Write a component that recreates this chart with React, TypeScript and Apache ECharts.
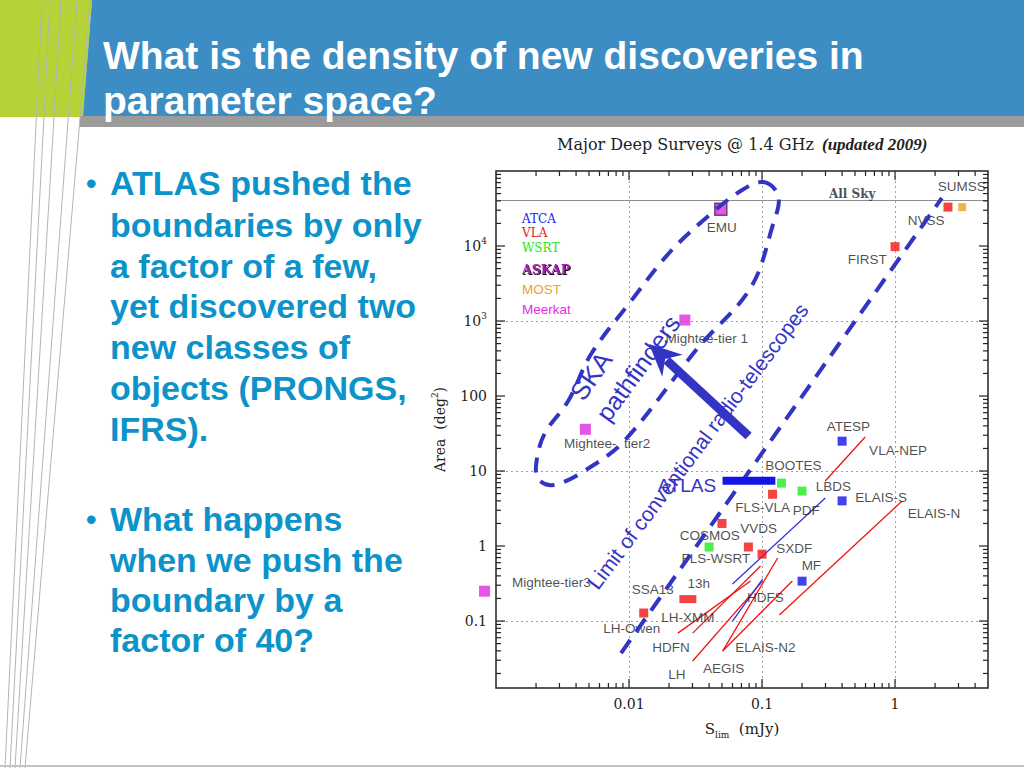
import React, { useEffect, useRef } from 'react';
import * as echarts from 'echarts';

// ---------- axes ----------
const X_MIN = 0.001;
const X_MAX = 5;
const Y_MIN = 0.0128;
const Y_MAX = 100000;
const xTickValues = [0.01, 0.1, 1];
const xTickLabels = ['0.01', '0.1', '1'];
const yTickValues = [0.1, 1, 10, 100, 1000, 10000];
const yTickLabels = ['0.1', '1', '10', '100', '10{sup|3}', '10{sup|4}'];
const xMajorTicks = [0.01, 0.1, 1];
const yMajorTicks = [0.1, 1, 10, 100, 1000, 10000];
const xDecades = [0.001, 0.01, 0.1, 1];
const yDecades = [0.01, 0.1, 1, 10, 100, 1000, 10000];
const minorMultipliers = [2, 3, 4, 5, 6, 7, 8, 9];
const xGridValues = [0.01, 0.1, 1];
const yGridValues = [0.1, 10, 1000];
const ALL_SKY = 41253;

// ---------- surveys: [name, S_lim (mJy), area (deg2)] ----------
const atcaPoints = [['ATESP', 0.4, 25], ['ELAIS-S', 0.4, 4], ['MF', 0.2, 0.34]];
const vlaPoints = [
  ['FIRST', 1, 9800], ['NVSS', 2.5, 33000], ['FLS-VLA', 0.12, 4.9], ['COSMOS', 0.05, 2],
  ['VVDS', 0.079, 0.97], ['SXDF', 0.1, 0.78], ['LH-Owen', 0.0129, 0.128],
];
const vla13hPoints = [['13h', 0.0277, 0.196]];
const wsrtPoints = [['BOOTES', 0.14, 6.9], ['LBDS', 0.2, 5.4], ['FLS-WSRT', 0.04, 0.97]];
const mostPoints = [['SUMSS', 3.2, 33000]];
const askapPoints = [['EMU', 0.049, 31000]];
const meerkatPoints = [['Mightee-tier 1', 0.0263, 1030], ['Mightee-tier2', 0.0047, 36], ['Mightee-tier3', 0.00082, 0.25]];

// survey tracks (depth vs area trade-offs)
const vlaTracks = [
  [[0.299, 7.36], [0.596, 28.4]],
  [[0.135, 0.12], [1.13, 3.98]],
  [[0.0233, 0.069], [0.082, 0.341]],
  [[0.0301, 0.069], [0.0975, 0.541]],
  [[0.0301, 0.0293], [0.101, 0.341]],
  [[0.0506, 0.0398], [0.131, 0.692]],
  [[0.0506, 0.0398], [0.169, 0.341]],
];
const atcaTracks = [
  [[0.06, 0.311], [0.299, 4.37]],
  [[0.06, 0.1], [0.101, 0.363]],
];

// label anchors: [text, S, area]
const labelItems = [
  ['EMU', 0.0498, 17400], ['Mightee-tier 1', 0.0384, 593], ['Mightee-  tier2', 0.00684, 23.6],
  ['Mightee-tier3', 0.00261, 0.331], ['SUMSS', 3.18, 61200], ['NVSS', 1.71, 22200], ['FIRST', 0.617, 6710],
  ['ATESP', 0.445, 39.8], ['VLA-NEP', 1.053, 18.5], ['BOOTES', 0.172, 11.7], ['LBDS', 0.344, 6.31],
  ['ELAIS-S', 0.785, 4.5], ['ELAIS-N', 1.96, 2.75], ['FLS-VLA', 0.101, 3.31], ['PDF', 0.215, 3.02],
  ['COSMOS', 0.0405, 1.4], ['VVDS', 0.0942, 1.69], ['FLS-WSRT', 0.0449, 0.692], ['SXDF', 0.175, 0.94],
  ['MF', 0.235, 0.558], ['13h', 0.0334, 0.321], ['SSA13', 0.0151, 0.267], ['HDFS', 0.106, 0.203],
  ['LH-XMM', 0.0277, 0.113], ['LH-Owen', 0.0105, 0.0807], ['HDFN', 0.0207, 0.045],
  ['ELAIS-N2', 0.106, 0.045], ['AEGIS', 0.0515, 0.0236], ['LH', 0.0229, 0.0196],
];
const allSkyLabel = [['All Sky', 0.477, 49400]];

// annotations in data space
const skaOutline = [
  [0.1026, 71300], [0.133, 46400], [0.12, 18500], [0.082, 2754], [0.0329, 437], [0.00918, 25.1],
  [0.0046, 10], [0.0027, 6.5], [0.00208, 7.8], [0.00201, 12.8], [0.00231, 31.1], [0.00349, 85.8],
  [0.00519, 363], [0.01035, 1848], [0.02065, 8577], [0.0411, 26700], [0.069, 54100],
];
const limitLine = [[0.00871, 0.0374], [2.25, 43650]];
const arrowLine = [[0.0792, 29.3], [0.01413, 494]];
const atlasBar = [[0.0505, 7.4], [0.126, 7.4]];
// [text, S, area, rotation deg, font size]
const annotationTexts = [
  ['ATLAS', 0.0272, 6.5, 0, 19],
  ['SKA', 0.00519, 185, 55, 26],
  ['pathfinders', 0.01167, 236, 54, 25],
  ['Limit of conventional radio-telescopes', 0.0329, 21.5, 53, 21],
];

// ---------- slide text ----------
const titleLines = [['What is the density of new discoveries in', 55], ['parameter space?', 100]];
const bodyLines = [
  ['ATLAS pushed the', 183, true], ['boundaries by only', 225, false], ['a factor of a few,', 266, false],
  ['yet discovered two', 306, false], ['new classes of', 347, false], ['objects (PRONGS,', 388, false],
  ['IFRS).', 429, false], ['What happens', 519, true], ['when we push the', 560, false],
  ['boundary by a', 600, false], ['factor of 40?', 640, false],
];
const legendItems = [
  ['ATCA', 219, '#2222e6', 'serif'], ['VLA', 233, '#ee1515', 'serif'], ['WSRT', 248, '#22e822', 'serif'],
  ['ASKAP', 269, '#a020a8', 'serifbold'], ['MOST', 289, '#f0a030', 'sans'], ['Meerkat', 309, '#e030e0', 'sans'],
];

const SANS = '"Liberation Sans", Arial, sans-serif';
const SERIF = '"DejaVu Serif", serif';
const ANN = '#3434c4';
const RED = '#f01414';
const GREEN = '#20ea20';
const BLUE = '#1212e8';
const MAGENTA = '#e02ce0';
const ORANGE = '#eaa420';
const AXIS = '#222';

function tickIndex(v: number, vals: number[]) {
  return vals.findIndex((t) => Math.abs(Math.log10(v) - Math.log10(t)) < 0.005);
}

function pointSeries(name: string, pts: any[], color: string, size: any, extra: any = {}) {
  return {
    type: 'scatter',
    name,
    data: pts.map((p) => ({ name: p[0], value: [p[1], p[2]] })),
    symbol: 'rect',
    symbolSize: size,
    itemStyle: { color, ...(extra.itemStyle || {}) },
    clip: false,
    silent: true,
    z: 3,
  };
}

function trackSeries(tracks: any[], color: string) {
  return tracks.map((t) => ({
    type: 'line',
    data: t,
    symbol: 'none',
    showSymbol: false,
    lineStyle: { color, width: 1.3 },
    clip: false,
    silent: true,
    z: 2,
  }));
}

function buildOption() {
  const xMinor: number[] = [];
  xDecades.forEach((d) => minorMultipliers.forEach((m) => { const v = d * m; if (v < X_MAX) xMinor.push(v); }));
  const yMinor: number[] = [];
  yDecades.forEach((d) => minorMultipliers.forEach((m) => { const v = d * m; if (v > Y_MIN && v < Y_MAX) yMinor.push(v); }));

  const xTickData = [...xMajorTicks.map((v) => [v, 1, 9]), ...xMinor.map((v) => [v, 1, 5])];
  const yTickData = [...yMajorTicks.map((v) => [0.01, v, 9]), ...yMinor.map((v) => [0.01, v, 5])];

  const graphic: any[] = [];
  graphic.push({ type: 'polygon', shape: { points: [[0, 0], [92, 0], [83, 117], [0, 117]] }, style: { fill: '#b5d336' } });
  graphic.push({ type: 'polygon', shape: { points: [[92, 0], [1024, 0], [1024, 116], [83, 116]] }, style: { fill: '#3b8dc4' } });
  graphic.push({ type: 'rect', shape: { x: 80, y: 116, width: 944, height: 11 }, style: { fill: '#9b9b9b' } });
  const decoLines = [[42, 5], [50, 10], [61, 15], [77, 20], [90, 25]];
  decoLines.forEach((l) => graphic.push({ type: 'line', shape: { x1: l[0], y1: 0, x2: l[1], y2: 768 }, style: { stroke: '#b4b4b4', lineWidth: 1 } }));
  graphic.push({ type: 'line', shape: { x1: 0, y1: 766, x2: 1024, y2: 766 }, style: { stroke: '#c4c4c4', lineWidth: 2 } });
  titleLines.forEach((t) => graphic.push({
    type: 'text', x: 103, y: t[1] as number,
    style: { text: t[0], fill: '#ffffff', font: `bold 39px ${SANS}`, align: 'left', textAlign: 'left', verticalAlign: 'middle', textVerticalAlign: 'middle' },
  }));
  bodyLines.forEach((b) => {
    if (b[2]) graphic.push({
      type: 'text', x: 86, y: b[1] as number,
      style: { text: '•', fill: '#0c93c9', font: `bold 30px ${SANS}`, align: 'left', textAlign: 'left', verticalAlign: 'middle', textVerticalAlign: 'middle' },
    });
    graphic.push({
      type: 'text', x: 110, y: b[1] as number,
      style: { text: b[0], fill: '#0c93c9', font: `bold 34px ${SANS}`, align: 'left', textAlign: 'left', verticalAlign: 'middle', textVerticalAlign: 'middle' },
    });
  });
  graphic.push({ type: 'text', x: 557, y: 144, style: { text: 'Major Deep Surveys @ 1.4 GHz', fill: '#222', font: `16px ${SERIF}`, align: 'left', textAlign: 'left', verticalAlign: 'middle', textVerticalAlign: 'middle' } });
  graphic.push({ type: 'text', x: 822, y: 144, style: { text: '(updated 2009)', fill: '#222', font: 'italic bold 17px "Liberation Serif", serif', align: 'left', textAlign: 'left', verticalAlign: 'middle', textVerticalAlign: 'middle' } });
  legendItems.forEach((l) => {
    const kind = l[3];
    const font = kind === 'sans' ? `13.5px ${SANS}` : kind === 'serifbold' ? `bold 12.5px ${SERIF}` : `12px ${SERIF}`;
    const style: any = { text: l[0], fill: l[2], font, align: 'left', textAlign: 'left', verticalAlign: 'middle', textVerticalAlign: 'middle' };
    if (kind === 'serifbold') { style.textShadowColor = '#000'; style.textShadowOffsetX = 1; style.textShadowOffsetY = 1; style.textShadowBlur = 1; }
    graphic.push({ type: 'text', x: 522, y: l[1] as number, style });
  });

  const series: any[] = [
    ...trackSeries(vlaTracks, RED),
    ...trackSeries(atcaTracks, '#3030e8'),
    pointSeries('ATCA', atcaPoints, BLUE, 9),
    pointSeries('VLA', vlaPoints, RED, 9),
    pointSeries('VLA 13h', vla13hPoints, RED, [17, 8]),
    pointSeries('WSRT', wsrtPoints, GREEN, 9),
    pointSeries('MOST', mostPoints, ORANGE, 8),
    pointSeries('ASKAP', askapPoints, MAGENTA, 12, { itemStyle: { borderColor: '#4a2a5a', borderWidth: 1.5 } }),
    pointSeries('Meerkat', meerkatPoints, MAGENTA, 11),
    {
      type: 'scatter',
      name: 'labels',
      data: labelItems.map((l) => ({ name: l[0], value: [l[1], l[2]] })),
      symbol: 'circle',
      symbolSize: 1,
      itemStyle: { color: 'rgba(0,0,0,0)' },
      clip: false,
      silent: true,
      z: 4,
      label: { show: true, position: 'inside', formatter: '{b}', color: '#1e1e1e', fontFamily: SANS, fontSize: 13.5 },
      markLine: {
        silent: true,
        symbol: ['none', 'none'],
        label: { show: false },
        lineStyle: { type: [2, 3], color: '#a0a0a0', width: 1 },
        data: [
          ...yGridValues.map((v) => ({ yAxis: v })),
          ...xGridValues.map((v) => ({ xAxis: v })),
          { yAxis: ALL_SKY, lineStyle: { type: 'solid', color: '#8e8e8e', width: 1.2 } },
        ],
        z: 1,
      },
    },
    {
      type: 'scatter',
      name: 'allSky',
      data: allSkyLabel.map((l) => ({ name: l[0], value: [l[1], l[2]] })),
      symbolSize: 1,
      itemStyle: { color: 'rgba(0,0,0,0)' },
      silent: true,
      z: 4,
      label: { show: true, position: 'inside', formatter: '{b}', color: '#1e1e1e', fontFamily: SERIF, fontWeight: 'bold', fontSize: 12 },
    },
    {
      type: 'custom',
      name: 'annotations',
      coordinateSystem: 'cartesian2d',
      silent: true,
      z: 5,
      data: [[0.01, 1]],
      renderItem: (params: any, api: any) => {
        const c = (p: any) => api.coord(p);
        const children: any[] = [];
        children.push({
          type: 'polygon',
          shape: { points: skaOutline.map(c), smooth: 0.35 },
          style: { fill: 'none', stroke: ANN, lineWidth: 4, lineDash: [15, 10] },
        });
        const l0 = c(limitLine[0]);
        const l1 = c(limitLine[1]);
        children.push({
          type: 'line',
          shape: { x1: l0[0], y1: l0[1], x2: l1[0], y2: l1[1] },
          style: { stroke: ANN, lineWidth: 4, lineDash: [16, 10] },
        });
        const t = c(arrowLine[0]);
        const h = c(arrowLine[1]);
        const dx = h[0] - t[0];
        const dy = h[1] - t[1];
        const L = Math.hypot(dx, dy);
        const ux = dx / L;
        const uy = dy / L;
        const px = -uy;
        const py = ux;
        const hl = 28;
        const hw = 15;
        const bx = h[0] - ux * hl;
        const by = h[1] - uy * hl;
        children.push({ type: 'line', shape: { x1: t[0], y1: t[1], x2: bx + ux * 4, y2: by + uy * 4 }, style: { stroke: ANN, lineWidth: 9 } });
        children.push({
          type: 'polygon',
          shape: { points: [[h[0], h[1]], [bx + px * hw - ux * 4, by + py * hw - uy * 4], [bx + ux * 6, by + uy * 6], [bx - px * hw - ux * 4, by - py * hw - uy * 4]] },
          style: { fill: ANN },
        });
        const a0 = c(atlasBar[0]);
        const a1 = c(atlasBar[1]);
        children.push({ type: 'line', shape: { x1: a0[0], y1: a0[1], x2: a1[0], y2: a1[1] }, style: { stroke: '#1414e6', lineWidth: 8 } });
        annotationTexts.forEach((a) => {
          const p = c([a[1], a[2]]);
          children.push({
            type: 'text',
            x: p[0],
            y: p[1],
            rotation: ((a[3] as number) * Math.PI) / 180,
            style: {
              text: a[0], fill: ANN, font: `${a[4]}px ${SANS}`,
              align: 'center', textAlign: 'center', verticalAlign: 'middle', textVerticalAlign: 'middle',
            },
          });
        });
        return { type: 'group', children };
      },
    },
    {
      type: 'custom',
      name: 'xTicks',
      coordinateSystem: 'cartesian2d',
      silent: true,
      z: 6,
      data: xTickData,
      renderItem: (params: any, api: any) => {
        const x = api.coord([api.value(0), 1])[0];
        const len = api.value(2);
        const cs = params.coordSys;
        const b = cs.y + cs.height;
        return {
          type: 'group',
          children: [
            { type: 'line', shape: { x1: x, y1: b, x2: x, y2: b - len }, style: { stroke: AXIS, lineWidth: 1.2 } },
            { type: 'line', shape: { x1: x, y1: cs.y, x2: x, y2: cs.y + len }, style: { stroke: AXIS, lineWidth: 1.2 } },
          ],
        };
      },
    },
    {
      type: 'custom',
      name: 'yTicks',
      coordinateSystem: 'cartesian2d',
      silent: true,
      z: 6,
      data: yTickData,
      renderItem: (params: any, api: any) => {
        const y = api.coord([0.01, api.value(1)])[1];
        const len = api.value(2);
        const cs = params.coordSys;
        const r = cs.x + cs.width;
        return {
          type: 'group',
          children: [
            { type: 'line', shape: { x1: cs.x, y1: y, x2: cs.x + len, y2: y }, style: { stroke: AXIS, lineWidth: 1.2 } },
            { type: 'line', shape: { x1: r, y1: y, x2: r - len, y2: y }, style: { stroke: AXIS, lineWidth: 1.2 } },
          ],
        };
      },
    },
  ];

  return {
    animation: false,
    backgroundColor: '#ffffff',
    grid: { left: 496, top: 171, right: 36, bottom: 80, show: true, borderColor: AXIS, borderWidth: 1.5, backgroundColor: 'transparent' },
    xAxis: {
      type: 'log', logBase: 10, min: X_MIN, max: X_MAX,
      axisLine: { show: false }, axisTick: { show: false }, splitLine: { show: false },
      axisLabel: {
        margin: 9, color: AXIS, fontFamily: SERIF, fontSize: 14,
        formatter: (v: number) => { const i = tickIndex(v, xTickValues); return i >= 0 ? xTickLabels[i] : ''; },
      },
      name: 'S{sub|lim}  (mJy)', nameLocation: 'middle', nameGap: 31,
      nameTextStyle: {
        color: AXIS, fontFamily: SERIF, fontSize: 15, lineHeight: 20,
        rich: { sub: { fontSize: 9, lineHeight: 12, verticalAlign: 'bottom', fontFamily: SERIF, color: AXIS } },
      },
    },
    yAxis: {
      type: 'log', logBase: 10, min: Y_MIN, max: Y_MAX,
      axisLine: { show: false }, axisTick: { show: false }, splitLine: { show: false },
      axisLabel: {
        margin: 9, color: AXIS, fontFamily: SERIF, fontSize: 14, lineHeight: 20,
        formatter: (v: number) => { const i = tickIndex(v, yTickValues); return i >= 0 ? yTickLabels[i] : ''; },
        rich: { sup: { fontSize: 9, lineHeight: 11, verticalAlign: 'top', fontFamily: SERIF, color: AXIS } },
      },
      name: 'Area  (deg{sup|2})', nameLocation: 'middle', nameGap: 46, nameRotate: 90,
      nameTextStyle: {
        color: AXIS, fontFamily: SERIF, fontSize: 14, lineHeight: 20,
        rich: { sup: { fontSize: 9, lineHeight: 11, verticalAlign: 'top', fontFamily: SERIF, color: AXIS } },
      },
    },
    graphic,
    series,
  };
}

export default function App() {
  const ref = useRef<HTMLDivElement>(null);
  useEffect(() => {
    if (!ref.current) return;
    const chart = echarts.init(ref.current, undefined, { renderer: 'svg', width: 1024, height: 768 });
    chart.setOption(buildOption() as any);
    return () => chart.dispose();
  }, []);
  return (
    <div
      ref={ref}
      style={{ position: 'absolute', left: 0, top: 0, width: 1024, height: 768, background: '#fff' }}
    />
  );
}
